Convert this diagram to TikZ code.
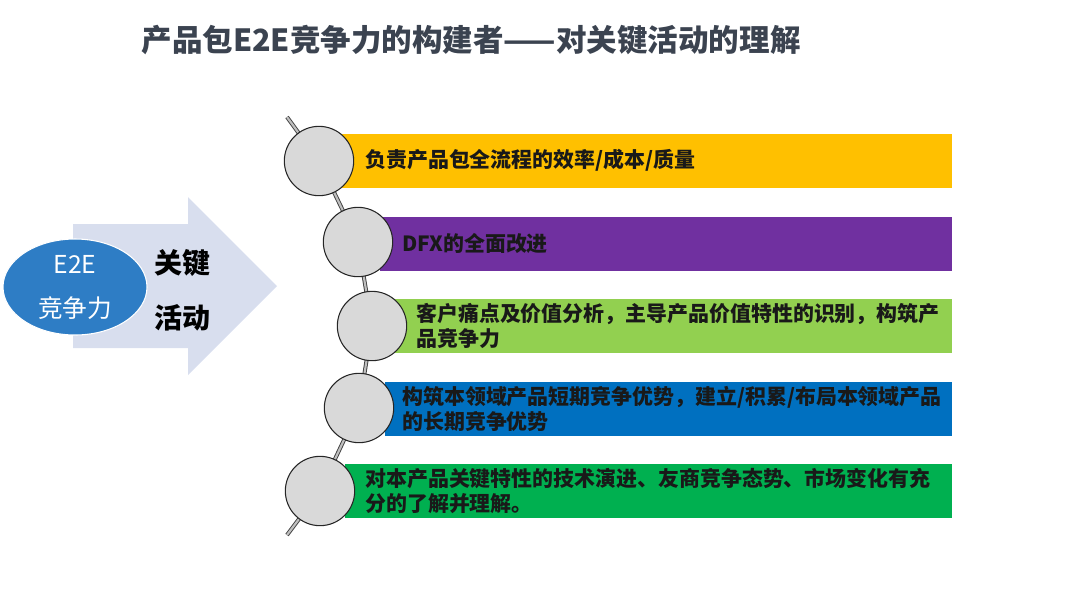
\documentclass[tikz,border=0pt]{standalone}
\usepackage{fontspec}
\setmainfont{Noto Sans CJK SC}
\usepackage{tikz}
\usetikzlibrary{positioning,shapes.geometric}
\definecolor{barYellow}{HTML}{FFC000}
\definecolor{barPurple}{HTML}{7030A0}
\definecolor{barLime}{HTML}{92D050}
\definecolor{barBlue}{HTML}{0070C0}
\definecolor{barGreen}{HTML}{00B050}
\definecolor{knobGray}{HTML}{D9D9D9}
\definecolor{arrowLilac}{HTML}{D8DEEE}
\definecolor{coreBlue}{HTML}{2E7DC5}
\definecolor{titleGray}{HTML}{3B4350}

\begin{document}
\begin{tikzpicture}[x=0.75pt,y=-0.75pt,
  bar/.style={anchor=east,minimum height=40.5pt,inner sep=0pt},
  knob/.style={circle,draw=black!85,fill=knobGray,line width=0.8pt,minimum size=52pt,inner sep=0pt},
  item/.style={anchor=west,align=left,inner sep=0pt,text=black!90,
    font=\fontsize{15.7}{18.75}\selectfont\bfseries},
  chain/.style={draw=black!75,double=black!25,double distance=1.6pt,line width=0.7pt}]
  \useasboundingbox (0,0) rectangle (1080,608);
  \node[font=\fontsize{22.9}{27}\selectfont\bfseries,text=titleGray] (title) at (471,40)
    {产品包E2E竞争力的构建者——对关键活动的理解};
  \fill[arrowLilac] (73,224) -- (188,224) -- (188,197) -- (277,286) -- (188,375)
    -- (188,348) -- (73,348) -- cycle;
  \node[ellipse,fill=coreBlue,draw=white,line width=0.8pt,minimum width=108pt,minimum height=72pt,
    inner sep=0pt,align=center,text=white,font=\fontsize{18.5}{33}\selectfont] (core) at (75,287)
    {E2E\\竞争力};
  \node[align=center,font=\fontsize{21}{41}\selectfont\bfseries] (keyact) at (182,290) {关键\\活动};
  \node[bar,fill=barYellow,minimum width=459pt] (bar1) at (952,160.5) {};
  \node[bar,fill=barPurple,minimum width=429pt] (bar2) at (952,243.5) {};
  \node[bar,fill=barLime,minimum width=417.75pt] (bar3) at (952,325.5) {};
  \node[bar,fill=barBlue,minimum width=425.25pt] (bar4) at (952,408.5) {};
  \node[bar,fill=barGreen,minimum width=455.25pt] (bar5) at (952,490.5) {};
  \coordinate (top) at (287,117);
  \coordinate (bottom) at (287,535);
  \coordinate (p1) at (319,161);
  \coordinate (p2) at (358,242);
  \coordinate (p3) at (372,326);
  \coordinate (p4) at (359,408);
  \coordinate (p5) at (320,491);
  \draw[chain] (top) -- (p1) -- (p2) -- (p3) -- (p4) -- (p5) -- (bottom);
  \foreach \i in {1,...,5}
    \node[knob] (c\i) at (p\i) {};
  \node[item] (t1) at (365,160.5) {负责产品包全流程的效率/成本/质量};
  \node[item] (t2) at (402,243.5) {DFX的全面改进};
  \node[item] (t3) at (416,325.5) {客户痛点及价值分析，主导产品价值特性的识别，构筑产\\品竞争力};
  \node[item] (t4) at (402,408.5) {构筑本领域产品短期竞争优势，建立/积累/布局本领域产品\\的长期竞争优势};
  \node[item] (t5) at (365,490.5) {对本产品关键特性的技术演进、友商竞争态势、市场变化有充\\分的了解并理解。};
\end{tikzpicture}
\end{document}
